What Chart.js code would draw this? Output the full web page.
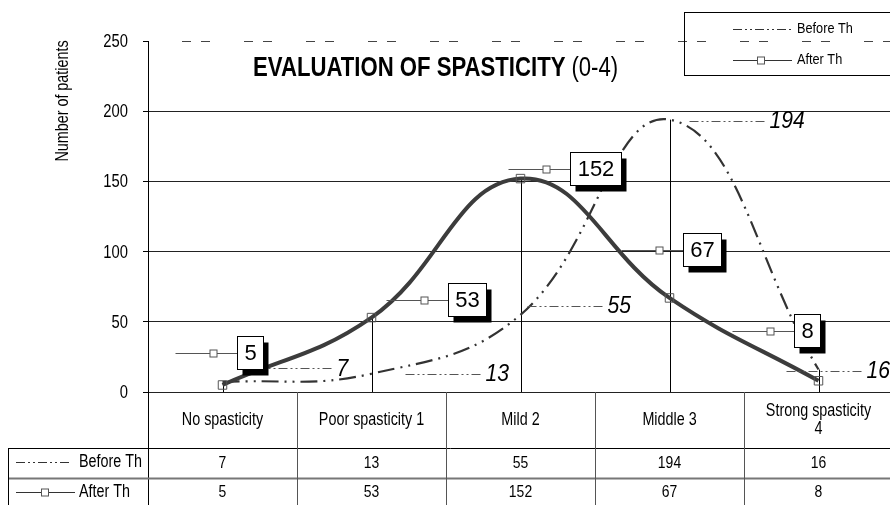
<!DOCTYPE html>
<html>
<head>
<meta charset="utf-8">
<title>Evaluation of spasticity</title>
<script src="https://cdn.jsdelivr.net/npm/chart.js@4.4.1/dist/chart.umd.min.js"></script>
<style>
  html, body { margin: 0; padding: 0; background: #fff; overflow: hidden; }
  #wrap { width: 900px; height: 505px; }
</style>
</head>
<body>
<div id="wrap"><canvas id="myChart" width="900" height="505"></canvas></div>
<script>
// Chart values
var categories = [['No spasticity'], ['Poor spasticity 1'], ['Mild 2'], ['Middle 3'], ['Strong spasticity', '4']]
var seriesNames = ['Before Th', 'After Th']
var beforeTh = [7, 13, 55, 194, 16]
var afterTh = [5, 53, 152, 67, 8]
var yTicks = [0, 50, 100, 150, 200, 250]

// where the data labels sit, relative to their point (px)
var afterLabelShift = [[27, -32], [95, -18], [75, -10], [32, -48], [-12, -50]]
var beforeLabelShift = [[114, -14], [114, 0], [87, -9], [100, 1], [48, 1]]

// the original uses a condensed face; use Liberation Sans Narrow if it is there,
// otherwise squeeze the regular one
var probe = document.createElement('canvas').getContext('2d')
function probeWidth(font) {
    probe.font = font
    return probe.measureText('number of patients spasticity').width
}
var hasNarrow = probeWidth('20px "Liberation Sans Narrow", monospace') < probeWidth('20px "Liberation Sans", monospace') * 0.9
var NARROW = hasNarrow ? '"Liberation Sans Narrow"' : '"Liberation Sans"'
var squeeze = hasNarrow ? 1 : 0.82

var BEFORE_DASH = [17, 6, 2, 6, 2, 6]
var KEY_DASH = [9, 3, 2, 3, 2, 3]

function put(ctx, text, x, y, font, align, sq) {
    ctx.save()
    ctx.font = font
    ctx.fillStyle = '#000'
    ctx.textBaseline = 'middle'
    ctx.textAlign = align || 'center'
    ctx.translate(x, y)
    ctx.scale(sq === undefined ? squeeze : sq, 1)
    ctx.fillText(text, 0, 0)
    ctx.restore()
}

function hline(ctx, x1, x2, y, color, width, dash) {
    ctx.save()
    ctx.strokeStyle = color
    ctx.lineWidth = width
    ctx.setLineDash(dash || [])
    ctx.beginPath()
    ctx.moveTo(x1, y)
    ctx.lineTo(x2, y)
    ctx.stroke()
    ctx.restore()
}

function vline(ctx, x, y1, y2, color, width) {
    ctx.save()
    ctx.strokeStyle = color
    ctx.lineWidth = width
    ctx.beginPath()
    ctx.moveTo(x, y1)
    ctx.lineTo(x, y2)
    ctx.stroke()
    ctx.restore()
}

function square(ctx, x, y, size) {
    ctx.save()
    ctx.fillStyle = '#fff'
    ctx.strokeStyle = '#555'
    ctx.lineWidth = 1
    ctx.fillRect(x - size / 2, y - size / 2, size, size)
    ctx.strokeRect(x - size / 2, y - size / 2, size, size)
    ctx.restore()
}

// legend key of a series: dash-dot-dot line, or a line with a square
function seriesKey(ctx, which, x1, x2, y, markAt) {
    if (which === 0) {
        hline(ctx, x1, x2, y, '#333', 1, KEY_DASH)
    } else {
        hline(ctx, x1, x2, y, '#333', 1)
        square(ctx, markAt, y, 7)
    }
}

// drop lines and the dashed line at the top of the value axis
var backdrop = {
    id: 'backdrop',
    beforeDatasetsDraw(chart) {
        var ctx = chart.ctx, area = chart.chartArea, y = chart.scales.y
        var m0 = chart.getDatasetMeta(0), m1 = chart.getDatasetMeta(1)
        for (var i = 0; i < categories.length; i++) {
            var top = Math.min(m0.data[i].y, m1.data[i].y)
            vline(ctx, Math.round(m0.data[i].x) + 0.5, top, area.bottom, '#000', 1)
        }
        ctx.save()
        ctx.lineDashOffset = -34
        hline(ctx, area.left, area.right, Math.round(y.getPixelForValue(250)) + 0.5, '#444', 1, [9, 10, 9, 34])
        ctx.restore()
    }
}

// the data labels with their little leader lines
var labels = {
    id: 'pointLabels',
    afterDatasetsDraw(chart) {
        var ctx = chart.ctx
        var m0 = chart.getDatasetMeta(0), m1 = chart.getDatasetMeta(1)

        for (var i = 0; i < beforeTh.length; i++) {
            var p = m0.data[i]
            var tx = p.x + beforeLabelShift[i][0], ty = p.y + beforeLabelShift[i][1]
            hline(ctx, tx - 80, tx - 2, Math.round(ty) + 0.5, '#555', 1, KEY_DASH)
            put(ctx, String(beforeTh[i]), tx, ty + 1, 'italic 23px "Liberation Sans"', 'left', 0.92)
        }

        for (var j = 0; j < afterTh.length; j++) {
            var q = m1.data[j]
            var cx = q.x + afterLabelShift[j][0], cy = q.y + afterLabelShift[j][1]
            ctx.font = '22px "Liberation Sans"'
            var w = Math.round(ctx.measureText(String(afterTh[j])).width + 14), h = 33
            var bx = Math.round(cx - w / 2) + 0.5, by = Math.round(cy - h / 2) + 0.5
            hline(ctx, bx - 62, bx, Math.round(cy) + 0.5, '#555', 1)
            square(ctx, bx - 24, Math.round(cy) + 0.5, 7)
            ctx.save()
            ctx.fillStyle = '#000'
            ctx.fillRect(bx + 5, by + 6, w, h)
            ctx.fillStyle = '#fff'
            ctx.fillRect(bx, by, w, h)
            ctx.strokeStyle = '#000'
            ctx.lineWidth = 1
            ctx.strokeRect(bx, by, w, h)
            ctx.restore()
            put(ctx, String(afterTh[j]), bx + w / 2, by + h / 2 + 1, '22px "Liberation Sans"', 'center', 1)
        }
    }
}

// tick labels, title, axis title, legend box and the data table under the plot
var frame = {
    id: 'frame',
    afterDraw(chart) {
        var ctx = chart.ctx, area = chart.chartArea, x = chart.scales.x, y = chart.scales.y
        var step = x.getPixelForValue(1) - x.getPixelForValue(0)

        // value axis tick labels (condensed, like the original)
        y.ticks.forEach(function(t) {
            put(ctx, String(t.value), area.left - 20, y.getPixelForValue(t.value) + 1, '18px ' + NARROW, 'right')
        })

        // title
        ctx.font = 'bold 27px ' + NARROW
        var boldW = ctx.measureText('EVALUATION OF SPASTICITY').width * squeeze
        put(ctx, 'EVALUATION OF SPASTICITY', 253, 69, 'bold 27px ' + NARROW, 'left')
        put(ctx, '(0-4)', 253 + boldW + 6, 69, '27px ' + NARROW, 'left')

        // value axis title
        ctx.save()
        ctx.translate(63, 101)
        ctx.rotate(-Math.PI / 2)
        put(ctx, 'Number of patients', 0, 0, '17.5px ' + NARROW, 'center')
        ctx.restore()

        // legend
        ctx.save()
        ctx.strokeStyle = '#000'
        ctx.lineWidth = 1
        ctx.strokeRect(684.5, 12.5, 240, 63)
        ctx.restore()
        seriesKey(ctx, 0, 733, 792, 29.5)
        seriesKey(ctx, 1, 733, 792, 60.5, 761)
        put(ctx, seriesNames[0], 797, 29, '15.5px ' + NARROW, 'left')
        put(ctx, seriesNames[1], 797, 60, '15.5px ' + NARROW, 'left')

        // data table
        var top = area.bottom, r1 = 448, r2 = 478.5, end = 505
        vline(ctx, area.left + 0.5, top, end, '#000', 1)
        hline(ctx, 8, area.right, r1 + 0.5, '#000', 1)
        hline(ctx, 8, area.right, r2, '#777', 2)
        vline(ctx, 8.5, r1, end, '#000', 1)
        for (var i = 0; i < categories.length; i++) {
            var cx = x.getPixelForValue(i)
            if (i > 0) vline(ctx, Math.round(cx - step / 2) + 0.5, top, end, '#555', 1)
            var lines = categories[i]
            for (var k = 0; k < lines.length; k++) {
                var ly = (top + r1) / 2 + (k - (lines.length - 1) / 2) * 18
                put(ctx, lines[k], cx, ly, '17.5px ' + NARROW, 'center')
            }
            put(ctx, String(beforeTh[i]), cx, 463, '17px ' + NARROW, 'center')
            put(ctx, String(afterTh[i]), cx, 492, '17px ' + NARROW, 'center')
        }
        seriesKey(ctx, 0, 16, 70, 462.5)
        seriesKey(ctx, 1, 16, 75, 492.5, 45)
        put(ctx, seriesNames[0], 79, 462, '17.5px ' + NARROW, 'left')
        put(ctx, seriesNames[1], 79, 492, '17.5px ' + NARROW, 'left')
    }
}

var ctx = document.getElementById('myChart').getContext('2d')
var chart = new Chart(ctx, {
    type: 'line',
    data: {
        labels: categories,
        datasets: [{
            label: seriesNames[0],
            data: beforeTh,
            borderColor: '#333',
            borderWidth: 2.2,
            borderDash: BEFORE_DASH,
            borderCapStyle: 'butt',
            pointRadius: 0,
            tension: 0.42,
            fill: false,
            order: 1
        },
        {
            label: seriesNames[1],
            data: afterTh,
            borderColor: '#3c3c3c',
            borderWidth: 4,
            pointStyle: 'rect',
            pointRadius: 6,
            pointBorderWidth: 1,
            pointBorderColor: '#555',
            pointBackgroundColor: 'rgba(0,0,0,0)',
            tension: 0.42,
            fill: false,
            order: 0
        }]
    },
    options: {
        responsive: false,
        animation: false,
        devicePixelRatio: 1,
        layout: { padding: { left: 0, right: 2, top: 41, bottom: 113 } },
        plugins: {
            legend: { display: false },
            title: { display: false },
            tooltip: { enabled: false }
        },
        scales: {
            x: {
                type: 'category',
                display: false,
                offset: true
            },
            y: {
                min: yTicks[0],
                max: yTicks[yTicks.length - 1],
                afterBuildTicks: function(scale) {
                    scale.ticks = yTicks.map(function(v) { return { value: v } })
                },
                afterFit: function(scale) { scale.width = 148 },
                border: { display: true, color: '#000', width: 1 },
                grid: {
                    color: function(c) { return c.tick && c.tick.value === 250 ? 'rgba(0,0,0,0)' : '#222' },
                    tickColor: '#000',
                    tickLength: 5,
                    lineWidth: 1
                },
                ticks: { display: false }
            }
        }
    },
    plugins: [backdrop, labels, frame]
})
</script>
</body>
</html>
